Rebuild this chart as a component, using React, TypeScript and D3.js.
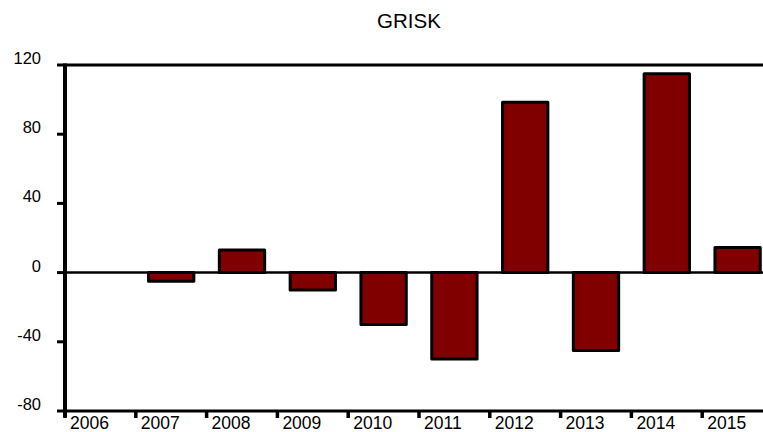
import React, { useEffect, useRef } from 'react';
import * as d3 from 'd3';

// data
const years = ['2006', '2007', '2008', '2009', '2010', '2011', '2012', '2013', '2014', '2015'];
const grisk = [0, -5, 13, -10, -30, -50, 98.5, -45, 115, 14.5];
const yTicks = [-80, -40, 0, 40, 80, 120];

const W = 763;
const H = 432;
const margin = { top: 65, left: 65, right: 773, bottom: 411 };

const App = () => {
  const ref = useRef<SVGGElement | null>(null);

  useEffect(() => {
    const g = d3.select(ref.current);
    g.selectAll('*').remove();

    const x = d3.scaleBand<string>().domain(years).range([margin.left, margin.right]).padding(0);
    const y = d3.scaleLinear().domain([-80, 120]).range([margin.bottom, margin.top]);
    const step = x.step();

    // title
    g.append('text')
      .attr('x', 409)
      .attr('y', 28)
      .attr('text-anchor', 'middle')
      .attr('font-size', 20.5)
      .text('GRISK');

    // top frame line
    g.append('line')
      .attr('x1', margin.left).attr('x2', W)
      .attr('y1', y(120)).attr('y2', y(120))
      .attr('stroke', '#000').attr('stroke-width', 3);

    // bars
    g.selectAll('.bar')
      .data(years.map((yr, i) => ({ yr, v: grisk[i] })).filter(d => d.v !== 0))
      .enter()
      .append('rect')
      .attr('class', 'bar')
      .attr('x', d => (x(d.yr) as number) + step * 0.18)
      .attr('width', step * 0.64)
      .attr('y', d => y(Math.max(0, d.v)))
      .attr('height', d => Math.abs(y(d.v) - y(0)))
      .attr('fill', '#800000')
      .attr('stroke', '#000')
      .attr('stroke-width', 3)
      .attr('stroke-linejoin', 'round');

    // zero line
    g.append('line')
      .attr('x1', margin.left).attr('x2', W)
      .attr('y1', y(0)).attr('y2', y(0))
      .attr('stroke', '#000').attr('stroke-width', 2.5);

    // bottom axis
    g.append('line')
      .attr('x1', margin.left).attr('x2', W)
      .attr('y1', y(-80)).attr('y2', y(-80))
      .attr('stroke', '#000').attr('stroke-width', 3);

    const xt = g.selectAll('.xtick').data(years).enter().append('g').attr('class', 'xtick');
    xt.append('line')
      .attr('x1', d => x(d) as number).attr('x2', d => x(d) as number)
      .attr('y1', y(-80)).attr('y2', y(-80) + 7)
      .attr('stroke', '#000').attr('stroke-width', 3.5);
    xt.append('text')
      .attr('x', d => (x(d) as number) + 5)
      .attr('y', 429)
      .attr('font-size', 17.5)
      .text(d => d);

    // left axis
    g.append('line')
      .attr('x1', margin.left).attr('x2', margin.left)
      .attr('y1', y(120) - 1.5).attr('y2', y(-80) + 6)
      .attr('stroke', '#000').attr('stroke-width', 4);

    const yt = g.selectAll('.ytick').data(yTicks).enter().append('g').attr('class', 'ytick');
    yt.append('line')
      .attr('x1', margin.left - 8).attr('x2', margin.left)
      .attr('y1', d => y(d)).attr('y2', d => y(d))
      .attr('stroke', '#000').attr('stroke-width', 3);
    yt.append('text')
      .attr('x', 41)
      .attr('y', d => y(d) - 1)
      .attr('text-anchor', 'end')
      .attr('font-size', 16.5)
      .text(d => d);
  }, []);

  return (
    <svg
      width={W}
      height={H}
      style={{ position: 'absolute', left: 0, top: 0, background: '#fff' }}
      fontFamily="'Liberation Sans', Arial, sans-serif"
    >
      <g ref={ref} />
    </svg>
  );
};

export default App;
